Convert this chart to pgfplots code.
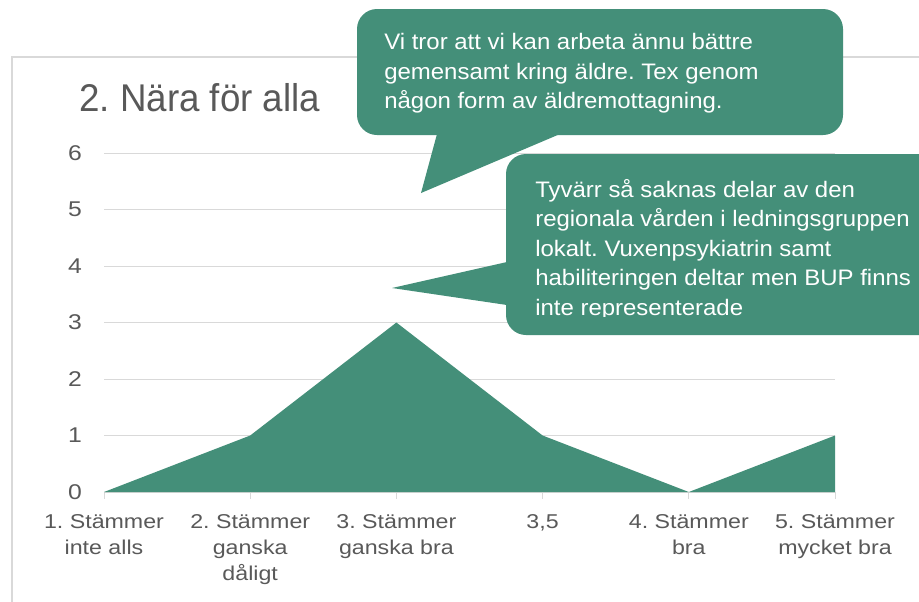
\documentclass[border=0pt]{standalone}
\usepackage{pgfplots}
\pgfplotsset{compat=1.18}
\usepackage{fontspec}
\setmainfont{Liberation Sans}
\newfontfamily\tickfont[FakeStretch=1.16]{Liberation Sans}
\newfontfamily\callfont[FakeStretch=1.07]{Liberation Sans}
\newfontfamily\titlefont[FakeStretch=0.95]{Liberation Sans}
\definecolor{fillc}{HTML}{448F79}
\definecolor{txt}{HTML}{595959}
\definecolor{gridc}{HTML}{D9D9D9}
\begin{document}
\frenchspacing
\begin{tikzpicture}[x=0.75pt,y=-0.75pt]
\useasboundingbox (0,0) rectangle (919,601);
\clip (0,0) rectangle (919,601);
\fill[white] (0,0) rectangle (919,601);
\draw[gridc, line width=1pt] (12,620) -- (12,57) -- (940,57);
\node[anchor=base west, text=txt, font=\titlefont\fontsize{29}{35}\selectfont, inner sep=0] at (79,111) {2. Nära för alla};
\begin{axis}[at={(78pt,-369pt)}, anchor=south west, scale only axis,
  width=548.25pt, height=254.25pt,
  xmin=0, xmax=5, ymin=0, ymax=6,
  xtick={0,...,5}, ytick={0,...,6},
  xticklabels={{1. Stämmer\\inte alls},{2. Stämmer\\ganska\\dåligt},{3. Stämmer\\ganska bra},{3,5},{4. Stämmer\\bra},{5. Stämmer\\mycket bra}},
  axis lines*=left,
  y axis line style={draw=none},
  x axis line style={gridc, line width=0.75pt},
  ytick style={draw=none},
  xtick style={gridc, line width=0.75pt},
  tick align=outside, major tick length=5pt,
  ymajorgrids, major grid style={gridc, line width=0.75pt},
  /pgf/number format/assume math mode=true,
  xticklabel style={text=txt, font=\tickfont\fontsize{15}{19.5}\selectfont\frenchspacing, align=center, yshift=-8pt},
  yticklabel style={text=txt, font=\tickfont\fontsize{16}{19.5}\selectfont, xshift=-8pt},
]
\addplot[fill=fillc, draw=none] coordinates {(0,0) (1,1) (2,3) (3,1) (4,0) (5,1)} \closedcycle;
\end{axis}
% callout 1
\fill[fillc, rounded corners=15pt] (357,9) rectangle (843,135);
\fill[fillc] (437,134) -- (560,134) -- (421,193) -- cycle;
\begin{scope}[every node/.style={anchor=base west, text=white, inner sep=0, font=\callfont\fontsize{16.8}{22}\selectfont\frenchspacing}]
\node at (384,49) {Vi tror att vi kan arbeta ännu bättre};
\node at (384,79) {gemensamt kring äldre. Tex genom};
\node at (384,108) {någon form av äldremottagning.};
\end{scope}
% callout 2
\fill[fillc, rounded corners=15pt] (506,154) rectangle (960,335);
\fill[fillc] (507,262) -- (507,305) -- (392,288) -- cycle;
\begin{scope}
\clip (0,0) rectangle (919,316);
\begin{scope}[every node/.style={anchor=base west, text=white, inner sep=0, font=\callfont\fontsize{16.8}{22}\selectfont\frenchspacing}]
\node at (535,197) {Tyvärr så saknas delar av den};
\node at (535,226.5) {regionala vården i ledningsgruppen};
\node at (535,256) {lokalt. Vuxenpsykiatrin samt};
\node at (535,285.5) {habiliteringen deltar men BUP finns};
\node at (535,315) {inte representerade};
\end{scope}
\end{scope}
\end{tikzpicture}
\end{document}
